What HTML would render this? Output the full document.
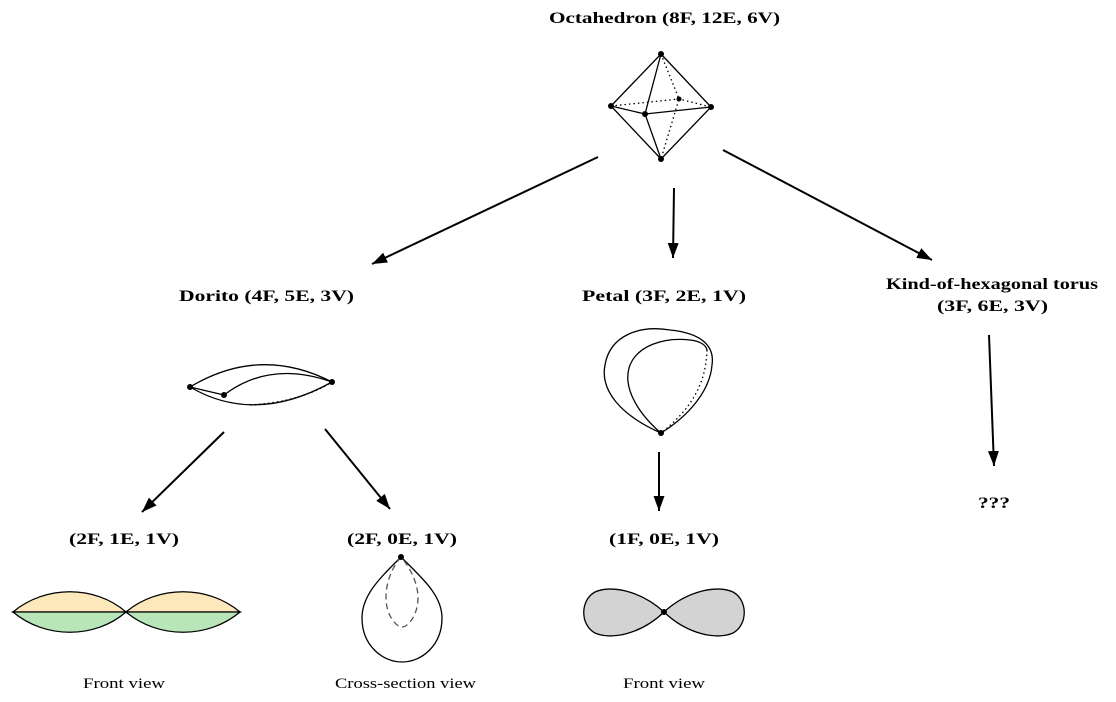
<!DOCTYPE html>
<html><head><meta charset="utf-8"><style>
html,body{margin:0;padding:0;background:#fff;}
svg{display:block;}
text{font-family:"Liberation Serif",serif;}
.b{font-weight:bold;font-size:16px;}
.n{font-size:15px;}
</style></head><body>
<svg width="1116" height="702" viewBox="0 0 1116 702" xmlns="http://www.w3.org/2000/svg">
<defs>
<marker id="ah" markerWidth="15" markerHeight="11" refX="15" refY="5.5" orient="auto" markerUnits="userSpaceOnUse">
<path d="M0,0 L15,5.5 L0,11 z" fill="#000"/>
</marker>
</defs>
<g lengthAdjust="spacingAndGlyphs">
<text class="b" x="549" y="23" textLength="231" lengthAdjust="spacingAndGlyphs">Octahedron (8F, 12E, 6V)</text>
<text class="b" x="179" y="301" textLength="175" lengthAdjust="spacingAndGlyphs">Dorito (4F, 5E, 3V)</text>
<text class="b" x="582" y="301" textLength="164" lengthAdjust="spacingAndGlyphs">Petal (3F, 2E, 1V)</text>
<text class="b" x="886" y="289" textLength="212" lengthAdjust="spacingAndGlyphs">Kind-of-hexagonal torus</text>
<text class="b" x="937" y="311" textLength="111" lengthAdjust="spacingAndGlyphs">(3F, 6E, 3V)</text>
<text class="b" x="978" y="508" textLength="32" lengthAdjust="spacingAndGlyphs">???</text>
<text class="b" x="69" y="544" textLength="110" lengthAdjust="spacingAndGlyphs">(2F, 1E, 1V)</text>
<text class="b" x="347" y="544" textLength="110" lengthAdjust="spacingAndGlyphs">(2F, 0E, 1V)</text>
<text class="b" x="609" y="544" textLength="110" lengthAdjust="spacingAndGlyphs">(1F, 0E, 1V)</text>
<text class="n" x="83" y="688" textLength="82" lengthAdjust="spacingAndGlyphs">Front view</text>
<text class="n" x="335" y="688" textLength="141" lengthAdjust="spacingAndGlyphs">Cross-section view</text>
<text class="n" x="623" y="688" textLength="82" lengthAdjust="spacingAndGlyphs">Front view</text>
</g>
<g stroke="#000" stroke-width="2" fill="none">
<line x1="598" y1="157" x2="372" y2="264" marker-end="url(#ah)"/>
<line x1="674" y1="188" x2="673" y2="258" marker-end="url(#ah)"/>
<line x1="723" y1="150" x2="932" y2="260" marker-end="url(#ah)"/>
<line x1="224" y1="432" x2="142" y2="512" marker-end="url(#ah)"/>
<line x1="325" y1="429" x2="390" y2="509" marker-end="url(#ah)"/>
<line x1="659" y1="452" x2="659" y2="511" marker-end="url(#ah)"/>
<line x1="989" y1="335" x2="994" y2="466" marker-end="url(#ah)"/>
</g>
<g stroke="#000" stroke-width="1.3" fill="none">
<path d="M661,54 L611,106 L661,159 L711,107 Z"/>
<path d="M661,54 L645,114 L661,159 M611,106 L645,114 L711,107"/>
<path d="M661,54 L679,99 L661,159 M611,106 L679,99 L711,107" stroke-dasharray="1.5,3"/>
</g>
<g fill="#000"><circle cx="661" cy="54" r="3"/><circle cx="611" cy="106" r="3"/><circle cx="711" cy="107" r="3"/><circle cx="645" cy="114" r="3"/><circle cx="679" cy="99" r="2.5"/><circle cx="661" cy="159" r="3"/></g>
<g stroke="#000" stroke-width="1.3" fill="none">
<path d="M190,387 Q260,345 332,382"/>
<path d="M190,387 Q255,425 332,382"/>
<path d="M190,387 L224,395"/>
<path d="M224,395 Q270,360 332,382"/>
<path d="M250,405 Q300,402 332,382" stroke-dasharray="1.5,3"/>
</g>
<g fill="#000"><circle cx="190" cy="387" r="3"/><circle cx="332" cy="382" r="3"/><circle cx="224" cy="395" r="3"/></g>
<g stroke="#000" stroke-width="1.3" fill="none">
<path d="M661,433 C620,415 600,390 605,365 C610,335 640,325 670,330 C700,333 715,345 712,365 C710,390 690,415 661,433"/>
<path d="M661,433 C640,415 623,390 629,368 C636,345 665,337 690,340 C700,341 706,345 707,350"/>
<path d="M707,350 C706,385 690,410 661,433" stroke-dasharray="1.5,3"/>
</g>
<circle cx="661" cy="433" r="3" fill="#000"/>
<g stroke="#000" stroke-width="1.3">
<path d="M13,612 C45,585 95,585 126,612 Z" fill="#fde8bb"/>
<path d="M13,612 C45,639 95,639 126,612 Z" fill="#b8e6b8"/>
<path d="M126,612 C158,585 208,585 240,612 Z" fill="#fde8bb"/>
<path d="M126,612 C158,639 208,639 240,612 Z" fill="#b8e6b8"/>
</g>
<g stroke="#000" stroke-width="1.3" fill="none">
<path d="M401,557 C380,578 362,595 362,618 C362,645 382,662 402,662 C422,662 442,645 442,618 C442,595 422,578 401,557 Z"/>
<path d="M401,557 C390,570 386,585 386,598 C386,615 396,627 402,627 C408,627 418,615 418,598 C418,585 412,570 401,557" stroke="#555" stroke-dasharray="6,4"/>
</g>
<circle cx="401" cy="557" r="3" fill="#000"/>
<path d="M664,612 C640,590 610,585 595,592 C580,600 580,625 595,633 C610,640 640,635 664,612 C688,590 718,585 733,592 C748,600 748,625 733,633 C718,640 688,635 664,612 Z" fill="#d3d3d3" stroke="#000" stroke-width="1.3"/>
<circle cx="664" cy="612" r="3" fill="#000"/>
</svg>
</body></html>
